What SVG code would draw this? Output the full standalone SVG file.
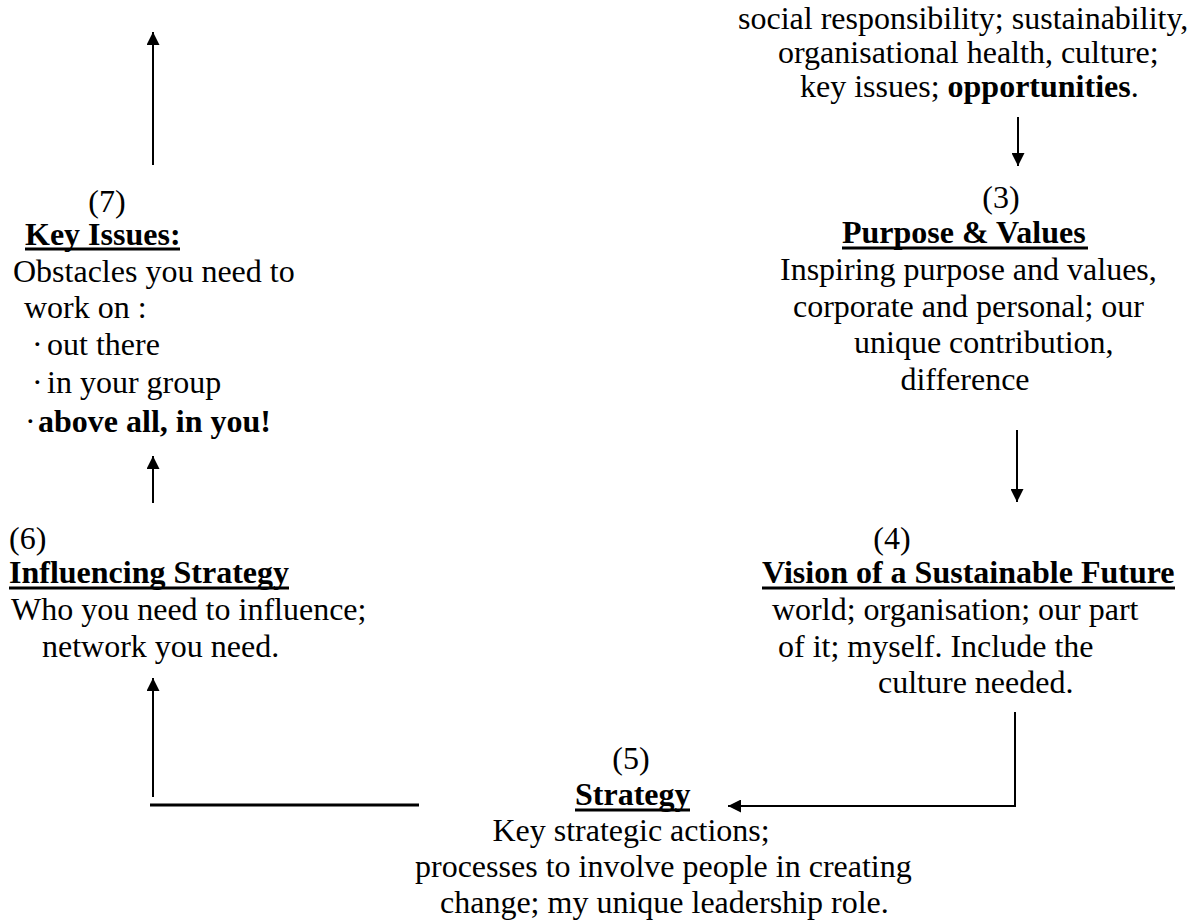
<svg xmlns="http://www.w3.org/2000/svg" width="1194" height="922" viewBox="0 0 1194 922">
<style>
text{font-family:"Liberation Serif","Times New Roman",serif;font-size:32px;fill:#000}
.b{font-weight:bold}
.m{text-anchor:middle}
.ul{stroke:#000;stroke-width:3}
.c{stroke:#000;stroke-width:2;fill:none}
</style>
<defs>
<marker id="ah" markerWidth="13" markerHeight="13" refX="13" refY="6.5" orient="auto" markerUnits="userSpaceOnUse">
<path d="M0,0 L13,6.5 L0,13 z" fill="#000"/>
</marker>
</defs>
<rect width="1194" height="922" fill="#fff"/>
<g id="context">
<text x="738" y="29">social responsibility; sustainability,</text>
<text x="778" y="63">organisational health, culture;</text>
<text x="800" y="97">key issues; <tspan class="b">opportunities</tspan>.</text>
</g>
<g id="node3">
<text class="m" x="1001" y="208">(3)</text>
<text class="b" x="842" y="243">Purpose &amp; Values</text>
<line class="ul" x1="842" y1="248" x2="1088" y2="248"/>
<text x="780" y="280">Inspiring purpose and values,</text>
<text x="793" y="317">corporate and personal; our</text>
<text x="854" y="353">unique contribution,</text>
<text class="m" x="965" y="390">difference</text>
</g>
<g id="node4">
<text class="m" x="892" y="549">(4)</text>
<text class="b" x="762" y="583">Vision of a Sustainable Future</text>
<line class="ul" x1="762" y1="588" x2="1175" y2="588"/>
<text x="772" y="620">world; organisation; our part</text>
<text x="778" y="657">of it; myself. Include the</text>
<text x="878" y="693">culture needed.</text>
</g>
<g id="node5">
<text class="m" x="631" y="769">(5)</text>
<text class="b" x="575" y="805">Strategy</text>
<line class="ul" x1="575" y1="810" x2="690" y2="810"/>
<text class="m" x="631" y="841">Key strategic actions;</text>
<text x="415" y="877">processes to involve people in creating</text>
<text x="440" y="913">change; my unique leadership role.</text>
</g>
<g id="node6">
<text x="9" y="549">(6)</text>
<text class="b" x="9" y="583">Influencing Strategy</text>
<line class="ul" x1="9" y1="588" x2="289" y2="588"/>
<text x="11" y="620">Who you need to influence;</text>
<text x="42" y="657">network you need.</text>
</g>
<g id="node7">
<text class="m" x="107" y="212">(7)</text>
<text class="b" x="25" y="245">Key Issues:</text>
<line class="ul" x1="25" y1="249" x2="180" y2="249"/>
<text x="13" y="282">Obstacles you need to</text>
<text x="24" y="318">work on :</text>
<text y="355"><tspan x="32">·</tspan><tspan x="47">out there</tspan></text>
<text y="393"><tspan x="32">·</tspan><tspan x="47">in your group</tspan></text>
<text y="432" class="b"><tspan x="25" font-weight="normal">·</tspan><tspan x="38">above all, in you!</tspan></text>
</g>
<g id="connectors">
<line class="c" x1="153" y1="165" x2="153" y2="32" marker-end="url(#ah)"/>
<line class="c" x1="1018" y1="117" x2="1018" y2="166" marker-end="url(#ah)"/>
<line class="c" x1="1017" y1="430" x2="1017" y2="502" marker-end="url(#ah)"/>
<line class="c" x1="153" y1="503" x2="153" y2="456" marker-end="url(#ah)"/>
<line class="c" x1="153" y1="797" x2="153" y2="678" marker-end="url(#ah)"/>
<line x1="150" y1="805" x2="419" y2="805" stroke="#000" stroke-width="3"/>
<path class="c" d="M1015,712 L1015,806 L728,806" marker-end="url(#ah)"/>
</g>
</svg>
